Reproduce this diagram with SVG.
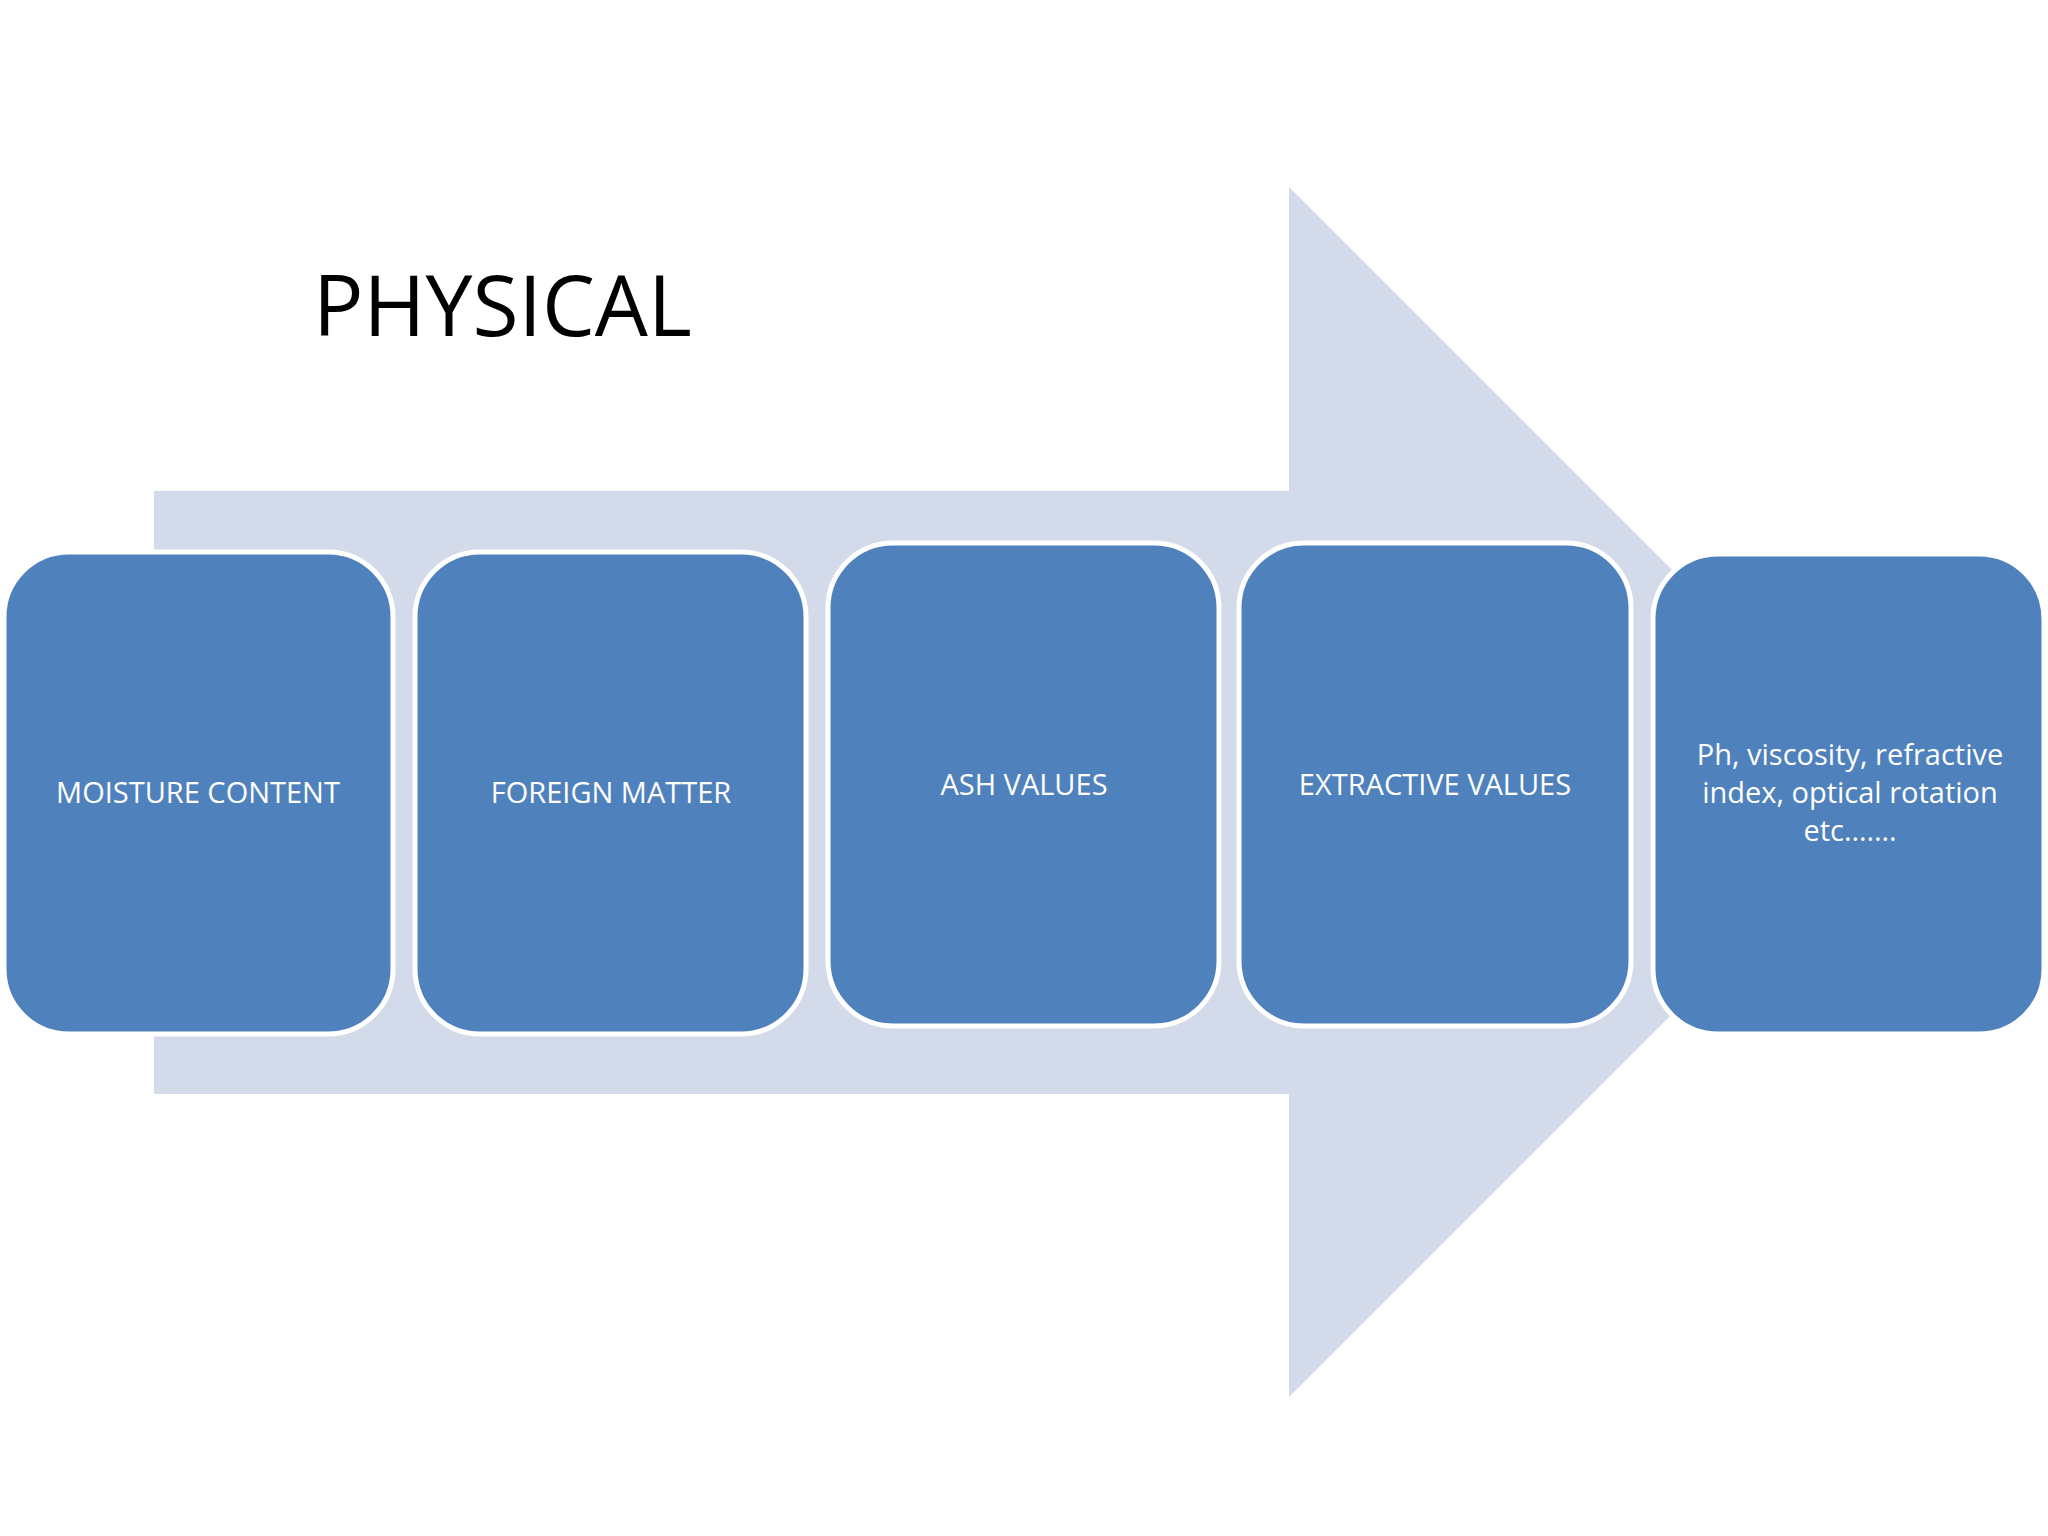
<svg xmlns="http://www.w3.org/2000/svg" width="2048" height="1536" viewBox="0 0 2048 1536">
<style>
.b{fill:#4F81BD;stroke:#fff;stroke-width:5}
.t{font-family:"Open Sans","Liberation Sans",sans-serif;font-size:29px;fill:#fff;text-anchor:middle}
</style>
<rect width="2048" height="1536" fill="#fff"/>
<g id="arrow"><polygon points="154,491 1289,491 1289,187 1894,792 1289,1397 1289,1094 154,1094" fill="#D3DAEA"/></g>
<g id="title"><text x="313" y="336" font-family="Open Sans,Liberation Sans,sans-serif" font-size="84" fill="#000">PHYSICAL</text></g>
<g id="connectors"></g>
<g id="n1"><rect class="b" x="4" y="552" width="389" height="482" rx="65"/><text class="t" x="198" y="803">MOISTURE CONTENT</text></g>
<g id="n2"><rect class="b" x="415" y="552" width="391" height="482" rx="65"/><text class="t" x="611" y="803">FOREIGN MATTER</text></g>
<g id="n3"><rect class="b" x="828" y="543" width="391" height="483" rx="65"/><text class="t" x="1024" y="795">ASH VALUES</text></g>
<g id="n4"><rect class="b" x="1239" y="543" width="392" height="483" rx="65"/><text class="t" x="1435" y="795">EXTRACTIVE VALUES</text></g>
<g id="n5"><rect class="b" x="1653" y="554" width="391" height="480" rx="65"/><text class="t" x="1850" y="765">Ph, viscosity, refractive</text><text class="t" x="1850" y="803">index, optical rotation</text><text class="t" x="1850" y="841">etc…….</text></g>
</svg>
